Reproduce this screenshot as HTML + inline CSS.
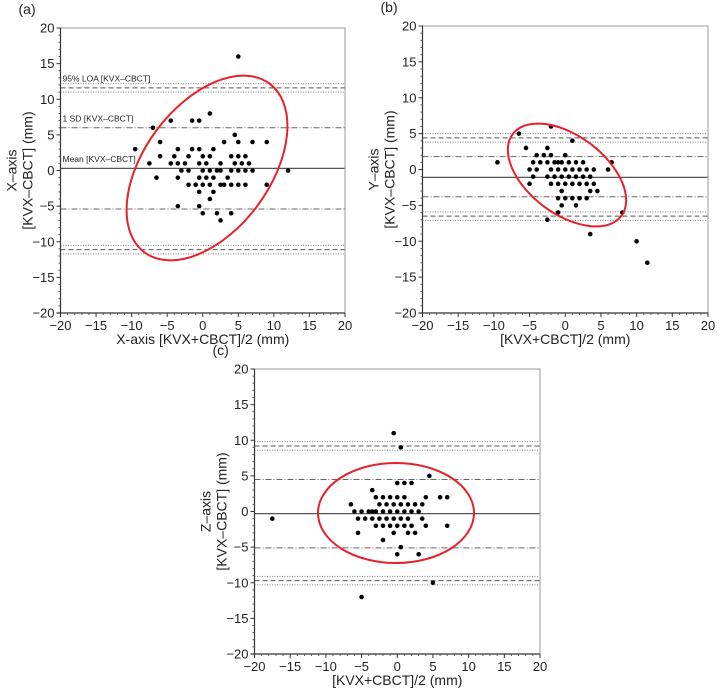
<!DOCTYPE html>
<html><head><meta charset="utf-8"><style>
body{margin:0;background:#fff;width:724px;height:695px;overflow:hidden}
svg text{font-family:"Liberation Sans",sans-serif;fill:#222}
</style></head><body>
<svg id="fig" width="724" height="695" viewBox="0 0 724 695" xmlns="http://www.w3.org/2000/svg"></svg>
<script>
const ticks=[-20,-15,-10,-5,0,5,10,15,20];
const tickLabels=["-20","-15","-10","-5","0","5","10","15","20"];
const ax=[[5,16],[-9.5,3],[-7.5,1],[-7,6],[-6.5,-1],[-6,4],[-6,2],[-4.5,7],[-4.5,1],[-4,2],[-3.5,3],[-3.5,1],[-3.5,-1],[-3.5,-5],[-3,0],[-2.5,1],[-2,2],[-2,0],[-2,-2],[-1.5,3],[-1.5,7],[-1,-2],[-0.5,7],[-0.5,3],[-0.5,1],[-0.5,-1],[-0.5,-3],[-0.5,-5],[0,2],[0,0],[0,-2],[0,-6],[0.5,1],[0.5,-1],[1,8],[1,2],[1,0],[1,-2],[1,-4],[1.5,3],[1.5,-1],[1.5,-3],[2,0],[2,-6],[2.5,1],[2.5,0],[2.5,-2],[2.5,-7],[3,4],[3,-2],[3.5,-1],[4,2],[4,0],[4,-2],[4,-6],[4.5,5],[4.5,1],[5,4],[5,2],[5,0],[5,-2],[5.5,1],[6,2],[6,0],[6,-2],[6.5,1],[7,4],[7,0],[9,4],[9,-2],[12,0]];
const bx=[[-9.5,1],[-6.5,5],[-5.5,3],[-5,0],[-5,-2],[-4.5,1],[-4.5,-1],[-4,2],[-4,0],[-3.5,1],[-3,2],[-2.5,3],[-2.5,1],[-2.5,-1],[-2.5,-7],[-2,6],[-2,2],[-2,0],[-2,-2],[-1.5,1],[-1.5,-1],[-1,1],[-1,0],[-1,-2],[-1,-4],[-1,-6],[-0.5,1],[-0.5,-1],[-0.5,-3],[-0.5,-5],[0,2],[0,0],[0,-2],[0,-4],[0.5,1],[0.5,-1],[1,4],[1,0],[1,-2],[1,-4],[1.5,1],[1.5,-1],[1.5,-5],[2,0],[2,-2],[2,-4],[2.5,1],[2.5,-1],[3,0],[3,-2],[3,-4],[3.5,-1],[3.5,-3],[4,0],[4,-2],[4.5,-3],[3.5,-9],[6,0],[6.5,1],[8,-6],[10,-10],[11.5,-13]];
const cx=[[-17.5,-1],[-6.5,1],[-6,0],[-5.5,-1],[-5.5,-3],[-5,0],[-5,-12],[-4.5,-1],[-4,0],[-3.5,3],[-3.5,0],[-3.5,-1],[-3,2],[-3,0],[-3,-2],[-2.5,1],[-2.5,-1],[-2,2],[-2,0],[-2,-2],[-2,-4],[-1.5,1],[-1.5,-1],[-1,2],[-1,0],[-1,-2],[-0.5,11],[-0.5,1],[-0.5,-1],[-0.5,-3],[0,4],[0,2],[0,0],[0,-2],[0,-6],[0.5,9],[0.5,1],[0.5,-1],[0.5,-5],[1,4],[1,2],[1,0],[1,-2],[1.5,1],[1.5,-1],[1.5,-3],[2,4],[2,0],[2,-2],[2.5,1],[2.5,-3],[3,0],[3,-6],[3.5,1],[3.5,-1],[4,2],[4,-2],[4.5,5],[5,-10],[6,2],[7,2],[7,-2]];
const meanA=[0.3], sdA=[6,-5.4], loaA=[11.6,-11.1];
const meanB=[-1.1], sdB=[1.8,-3.8], loaB=[4.4,-6.5];
const meanC=[-0.3], sdC=[4.5,-5.1], loaC=[9.2,-9.7];

const NS="http://www.w3.org/2000/svg";
const svg=document.getElementById('fig');
function el(tag,attrs,parent,txt){const e=document.createElementNS(NS,tag);for(const k in attrs)e.setAttribute(k,attrs[k]);if(txt!==undefined)e.textContent=txt;(parent||svg).appendChild(e);return e;}

function panel(id,L,R,T,B,pts,mean,sd,loa,ytitle,xtitle,label,ell,annot){
  const g=el('g',{});
  
  
  const X=v=>L+(v+20)/40*(R-L), Y=v=>B-(v+20)/40*(B-T);
  const lab=el('text',{x:L-42,y:T-14,'font-size':14},g,label);
  
  loa.forEach(v=>{
    [-0.6,0.6].forEach(d=>{const l=el('line',{x1:L,x2:R,y1:Y(v+d),y2:Y(v+d),stroke:'#888','stroke-width':1,'stroke-dasharray':'1,1.5'},g);
      });
    const l=el('line',{x1:L,x2:R,y1:Y(v),y2:Y(v),stroke:'#555','stroke-width':1,'stroke-dasharray':'5,3'},g);
    
  });
  sd.forEach(v=>{const l=el('line',{x1:L,x2:R,y1:Y(v),y2:Y(v),stroke:'#666','stroke-width':1,'stroke-dasharray':'6,2,1,2'},g);
    });
  mean.forEach(v=>{const l=el('line',{x1:L,x2:R,y1:Y(v),y2:Y(v),stroke:'#555','stroke-width':1.3},g);
    });
  if(annot){
    const t1=el('text',{x:L+2,y:Y(loa[0]+0.9),'font-size':8.5,fill:'#333'},g,'95% LOA [KVX\u2013CBCT]');
    
    const t2=el('text',{x:L+2,y:Y(sd[0]+0.9),'font-size':8.5},g,'1 SD [KVX\u2013CBCT]');
    
    const t3=el('text',{x:L+2,y:Y(mean[0]+0.9),'font-size':8.5},g,'Mean [KVX\u2013CBCT]');
    
  }
  const fr=el('rect',{x:L,y:T,width:R-L,height:B-T,fill:'none',stroke:'#999','stroke-width':1},g);
  
  const axl=el('line',{x1:L,x2:L,y1:T,y2:B+4,stroke:'#333','stroke-width':1.2},g);
  
  const axb=el('line',{x1:L-4,x2:R,y1:B,y2:B,stroke:'#333','stroke-width':1.2},g);
  
  for(let v=-20;v<=20;v++){ if(v%5){el('line',{x1:L,x2:L-2,y1:Y(v),y2:Y(v),stroke:'#555'},g);el('line',{x1:X(v),x2:X(v),y1:B,y2:B+2,stroke:'#555'},g);} }
  ticks.forEach((v,i)=>{
    el('line',{x1:L,x2:L-4,y1:Y(v),y2:Y(v),stroke:'#333'},g);
    el('line',{x1:X(v),x2:X(v),y1:B,y2:B+4,stroke:'#333'},g);
    const ty=el('text',{x:L-6,y:Y(v)+4.5,'font-size':13,'text-anchor':'end'},g,tickLabels[i].replace('-','\u2212'));
    
    const tx=el('text',{x:X(v),y:B+17,'font-size':13,'text-anchor':'middle'},g,tickLabels[i].replace('-','\u2212'));
    
  });
  const xt=el('text',{x:(L+R)/2,y:B+31,'font-size':14,'text-anchor':'middle'},g,xtitle);
  
  const yt=el('text',{transform:`translate(${L-36},${(T+B)/2}) rotate(-90)`,'font-size':14,'text-anchor':'middle'},g);
  
  el('tspan',{x:0,dy:-8},yt,ytitle[0]);el('tspan',{x:0,dy:16},yt,ytitle[1]);
  pts.forEach(p=>{const c=el('circle',{cx:X(p[0]),cy:Y(p[1]),r:2.3,fill:'#000'},g);
    });
  const e=el('ellipse',{cx:ell[0],cy:ell[1],rx:ell[2],ry:ell[3],transform:`rotate(${ell[4]} ${ell[0]} ${ell[1]})`,fill:'none',stroke:'#e8202a','stroke-width':2},g);
  
}
panel('a',60.5,345,28,313,ax,meanA,sdA,loaA,['X\u2013axis','[KVX\u2013CBCT] (mm)'],'X-axis [KVX+CBCT]/2 (mm)','(a)',[207,168,105,63,-53.5],true);
panel('b',422.5,708,26,313,bx,meanB,sdB,loaB,['Y\u2013axis','[KVX\u2013CBCT] (mm)'],'[KVX+CBCT]/2 (mm)','(b)',[567,175,68,39,37],false);
panel('c',254.5,540,369,654,cx,meanC,sdC,loaC,['Z\u2013axis','[KVX\u2013CBCT] (mm)'],'[KVX+CBCT]/2 (mm)','(c)',[396,513,78,50,0],false);
</script>
</body></html>
